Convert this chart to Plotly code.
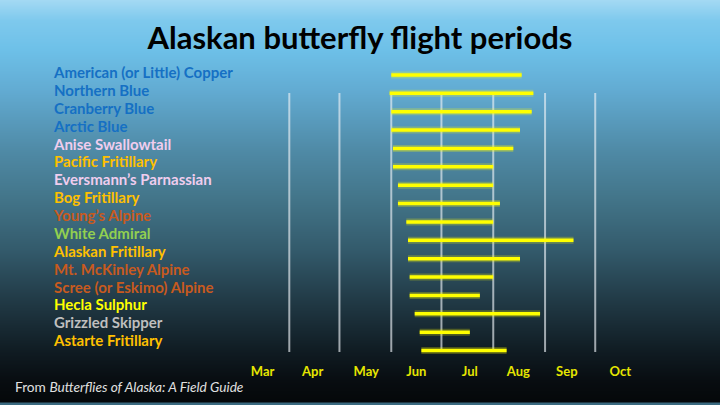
import base64
import struct
import zlib

import numpy as np
import pandas as pd
import plotly.graph_objects as go


# --------------------------------------------------
# Data
# --------------------------------------------------
butterflies = [
    "American (or Little) Copper", "Northern Blue", "Cranberry Blue", "Arctic Blue",
    "Anise Swallowtail", "Pacific Fritillary", "Eversmann’s Parnassian", "Bog Fritillary",
    "Young’s Alpine", "White Admiral", "Alaskan Fritillary", "Mt. McKinley Alpine",
    "Scree (or Eskimo) Alpine", "Hecla Sulphur", "Grizzled Skipper", "Astarte Fritillary",
]
label_colors = [
    "#1570C4", "#1570C4", "#1570C4", "#1570C4",
    "#F0CDEE", "#FFC000", "#F0CDEE", "#FFC000",
    "#C85A1E", "#92D050", "#FFC000", "#C85A1E",
    "#C85A1E", "#FFFF00", "#BFBFBF", "#FFC000",
]
flight_start = [
    "2023-06-01", "2023-05-31", "2023-06-01", "2023-06-01",
    "2023-06-02", "2023-06-02", "2023-06-05", "2023-06-05",
    "2023-06-10", "2023-06-11", "2023-06-11", "2023-06-12",
    "2023-06-12", "2023-06-15", "2023-06-18", "2023-06-19",
]
flight_end = [
    "2023-08-18", "2023-08-25", "2023-08-24", "2023-08-17",
    "2023-08-13", "2023-08-01", "2023-08-01", "2023-08-05",
    "2023-08-01", "2023-09-18", "2023-08-17", "2023-08-01",
    "2023-07-24", "2023-08-29", "2023-07-18", "2023-08-09",
]
month_names = ["Mar", "Apr", "May", "Jun", "Jul", "Aug", "Sep", "Oct"]
month_label_dates = [
    "2023-03-16", "2023-04-15", "2023-05-17", "2023-06-16",
    "2023-07-18", "2023-08-16", "2023-09-14", "2023-10-16",
]
month_starts = [
    "2023-04-01", "2023-05-01", "2023-06-01", "2023-07-01",
    "2023-08-01", "2023-09-01", "2023-10-01",
]

# background gradient: (pixel row from top, colour)
bg_stops = [
    (0, "#a3d9f3"), (20, "#7ec9ed"), (50, "#6dc0e8"), (90, "#62abd2"),
    (150, "#4f8aa6"), (200, "#427488"), (250, "#335a6b"), (300, "#213a46"),
    (350, "#101c23"), (380, "#080d11"), (401, "#05080a"), (403, "#3a6a80"),
    (405, "#3a6a80"),
]


# --------------------------------------------------
# Hintergrund als PNG (vertikaler Verlauf)
# --------------------------------------------------
def gradient_png(stops, height=405, width=4):
    rows = np.arange(height)
    pos = [s[0] for s in stops]
    rgb = np.array([[int(c[i:i + 2], 16) for i in (1, 3, 5)] for _, c in stops])
    chans = [np.interp(rows, pos, rgb[:, k]) for k in range(3)]
    raw = b""
    for r in rows:
        px = bytes([int(round(chans[0][r])), int(round(chans[1][r])), int(round(chans[2][r]))])
        raw += b"\x00" + px * width

    def chunk(tag, data):
        return (struct.pack(">I", len(data)) + tag + data
                + struct.pack(">I", zlib.crc32(tag + data) & 0xFFFFFFFF))

    png = b"\x89PNG\r\n\x1a\n"
    png += chunk(b"IHDR", struct.pack(">IIBBBBB", width, height, 8, 2, 0, 0, 0))
    png += chunk(b"IDAT", zlib.compress(raw, 9))
    png += chunk(b"IEND", b"")
    return "data:image/png;base64," + base64.b64encode(png).decode()


# --------------------------------------------------
# Plot
# --------------------------------------------------
W, H = 720, 405
TOP, BOTTOM = 55, 358            # plot area in px
PLOT_H = BOTTOM - TOP
PX_APR1, PX_PER_DAY = 289.3, 1.6717

apr1 = pd.Timestamp("2023-04-01")
x_range = [
    (apr1 - pd.Timedelta(days=PX_APR1 / PX_PER_DAY)).strftime("%Y-%m-%d %H:%M"),
    (apr1 + pd.Timedelta(days=(W - PX_APR1) / PX_PER_DAY)).strftime("%Y-%m-%d %H:%M"),
]


def paper_y(px):
    # paper coords refer to the plot area
    return (BOTTOM - px) / PLOT_H


def y_range(first_px, step_px, n):
    return [n - 1 + (BOTTOM - (first_px + step_px * (n - 1))) / step_px,
            -(first_px - TOP) / step_px]


n = len(butterflies)
fig = go.Figure()

for i, name in enumerate(butterflies):
    # leichter Schein unter der Linie
    fig.add_trace(go.Scatter(
        x=[flight_start[i], flight_end[i]], y=[i, i],
        mode="lines", line=dict(color="rgba(255,255,0,0.25)", width=7),
        hoverinfo="skip", showlegend=False,
    ))
    fig.add_trace(go.Scatter(
        x=[flight_start[i], flight_end[i]], y=[i, i],
        mode="lines", name=name,
        line=dict(color="#FFFF00", width=3.5),
        showlegend=False,
    ))

for d in month_starts:
    fig.add_shape(
        type="line", xref="x", yref="paper",
        x0=d, x1=d, y0=paper_y(352), y1=paper_y(93),
        line=dict(color="rgba(235,240,245,0.65)", width=2),
        layer="below",
    )

ticktext = [f'<span style="color:{c}">{b}</span>' for b, c in zip(butterflies, label_colors)]

fig.update_layout(
    width=W, height=H,
    margin=dict(l=0, r=0, t=TOP, b=H - BOTTOM),
    paper_bgcolor="#05080a",
    plot_bgcolor="rgba(0,0,0,0)",
    images=[dict(
        source=gradient_png(bg_stops, H), xref="paper", yref="paper",
        x=0, y=paper_y(0), sizex=1, sizey=H / PLOT_H, sizing="stretch",
        xanchor="left", yanchor="top", layer="below",
    )],
    title=dict(
        text="Alaskan butterfly flight periods",
        x=0.5, xanchor="center", y=1 - 38 / H, yanchor="middle",
        font=dict(family="Lato", size=31, color="#000000", weight="bold"),
    ),
    xaxis=dict(
        type="date", range=x_range, domain=[0, 1],
        tickvals=month_label_dates, ticktext=month_names,
        tickfont=dict(family="Lato", size=13, color="#E6E600", weight="bold"),
        ticklabelstandoff=4,
        showgrid=False, zeroline=False, showline=False, ticks="",
    ),
    yaxis=dict(
        range=y_range(75, 18.367, n), visible=False,
    ),
    yaxis2=dict(
        overlaying="y", anchor="free", position=50 / W, side="left",
        range=y_range(72.7, 17.887, n),
        tickvals=list(range(n)), ticktext=ticktext,
        ticklabelposition="inside", ticks="",
        tickfont=dict(family="Lato", size=15, weight="bold"),
        showgrid=False, zeroline=False, showline=False,
    ),
    annotations=[dict(
        text="From <i>Butterflies of Alaska: A Field Guide</i>",
        xref="paper", yref="paper", x=13 / W, y=paper_y(386),
        xanchor="left", yanchor="middle", showarrow=False,
        font=dict(family="Lato", size=13.7, color="#E0E0E0"),
    )],
)

# unsichtbarer Trace, damit yaxis2 gezeichnet wird
fig.add_trace(go.Scatter(x=[flight_start[0]], y=[0], yaxis="y2",
                         mode="markers", marker=dict(opacity=0),
                         hoverinfo="skip", showlegend=False))

fig.write_html(
    "out.html",
    config={"displayModeBar": False},
    post_script="document.body.style.margin = '0';",
)
